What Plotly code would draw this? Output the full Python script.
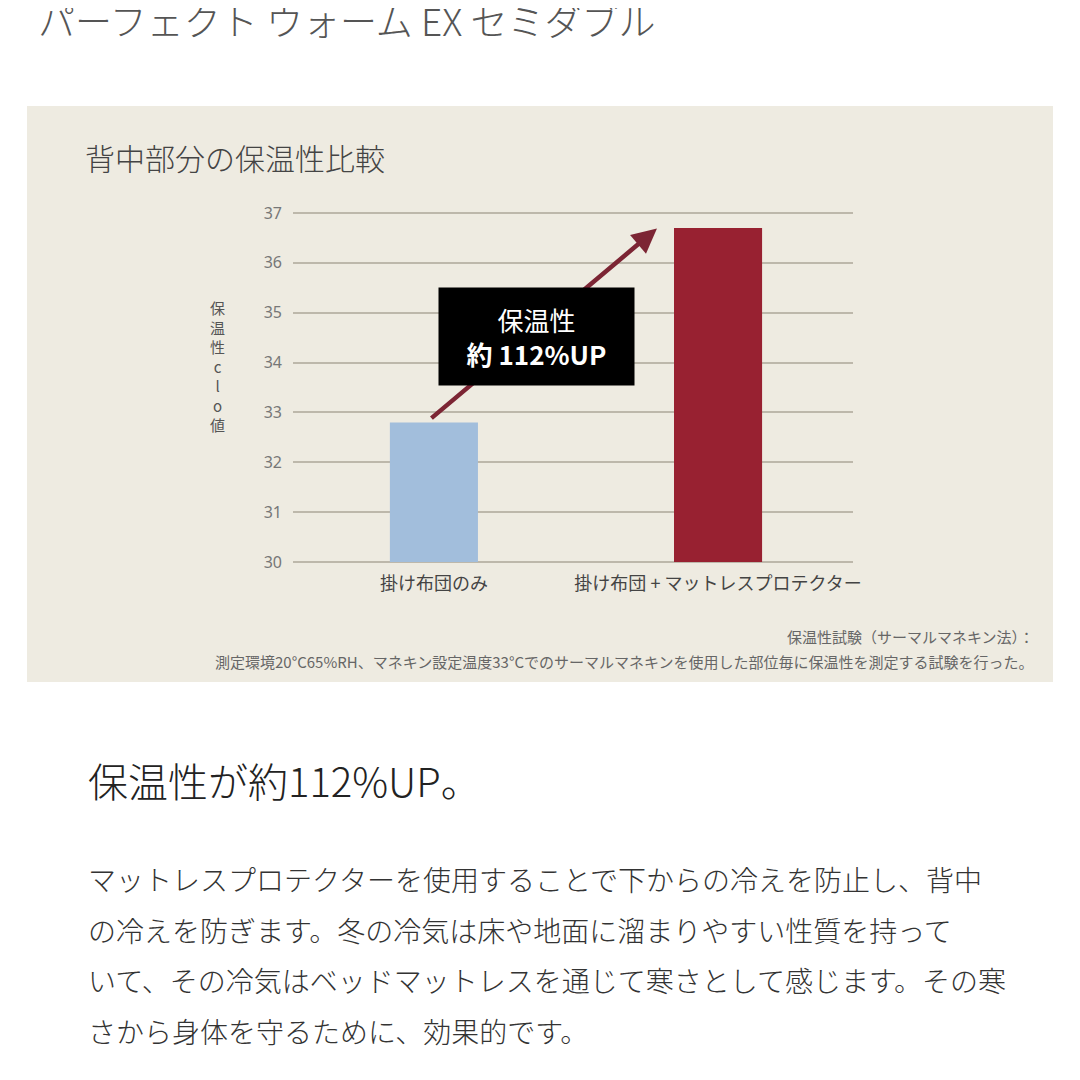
import plotly.graph_objects as go

# ---- data ----
categories = ["掛け布団のみ", "掛け布団 + マットレスプロテクター"]
clo_values = [32.8, 36.7]
y_ticks = [30, 31, 32, 33, 34, 35, 36, 37]
bar_colors = ["#A2BEDC", "#982131"]

page_title = "パーフェクト ウォーム EX セミダブル"
chart_title = "背中部分の保温性比較"
y_title_chars = ["保", "温", "性", "c", "l", "o", "値"]
box_lines = ["保温性", "<b>約 112%UP</b>"]
footnotes = [
    "保温性試験（サーマルマネキン法）：",
    "測定環境20°C65%RH、マネキン設定温度33°Cでのサーマルマネキンを使用した部位毎に保温性を測定する試験を行った。",
]
headline = "保温性が約112%UP。"
paragraph = [
    "マットレスプロテクターを使用することで下からの冷えを防止し、背中",
    "の冷えを防ぎます。冬の冷気は床や地面に溜まりやすい性質を持って",
    "いて、その冷気はベッドマットレスを通じて寒さとして感じます。その寒",
    "さから身体を守るために、効果的です。",
]

JP = "Noto Sans CJK JP"
W = H = 1080
OFF = 8  # page body margin
Y0, Y1 = 29.9, 37.1
# target pixel positions (reference picture coords) of the plot area
PL, PR = 293, 853
UNIT = (562 - 213) / 7.0
PT = 213 - (Y1 - 37) * UNIT
PB = 562 + (30 - Y0) * UNIT
L, R, T, B = PL - OFF, PR - OFF, PT - OFF, PB - OFF


def px(x):
    return (x - PL) / (PR - PL)


def py(y):
    return (PB - y) / (PB - PT)


fig = go.Figure()
fig.add_trace(go.Bar(
    x=[0, 1], y=[v - 30 for v in clo_values], base=30,
    marker=dict(color=bar_colors, line=dict(width=0)),
    width=0.31, hoverinfo="skip",
))

fig.update_layout(
    width=W, height=H, autosize=False,
    margin=dict(l=L, r=W - R, t=T, b=H - B, pad=0),
    paper_bgcolor="#FFFFFF", plot_bgcolor="#EEEBE1",
    showlegend=False,
    font=dict(family=JP, color="#444"),
    xaxis=dict(
        range=[-0.496, 1.475], tickmode="array", tickvals=[0, 1], ticktext=categories,
        showgrid=False, zeroline=False, showline=False,
        tickfont=dict(size=18, color="#444", family=JP), ticklabelstandoff=4,
    ),
    yaxis=dict(
        range=[Y0, Y1], tickmode="array", tickvals=y_ticks,
        ticktext=[str(t) for t in y_ticks],
        showgrid=True, gridcolor="#BDB8AB", gridwidth=2, zeroline=False, showline=False,
        tickfont=dict(size=16, color="#777", family="Noto Sans"), ticklabelstandoff=10,
    ),
)

# beige panel
fig.add_shape(type="rect", xref="paper", yref="paper",
              x0=px(27), x1=px(1053), y0=py(682), y1=py(106),
              fillcolor="#EEEBE1", line=dict(width=0), layer="below")

ann = []
# arrow (drawn first so box sits on top)
ann.append(dict(x=0.785, y=36.69, xref="x", yref="y",
                ax=-0.014, ay=32.86, axref="x", ayref="y",
                showarrow=True, arrowhead=2, arrowsize=1.1, arrowwidth=4.5,
                arrowcolor="#7C2534", text=""))
# black box
ann.append(dict(x=px(536.5), y=py(336.5), xref="paper", yref="paper",
                xanchor="center", yanchor="middle",
                text="<br>".join(box_lines), showarrow=False,
                bgcolor="#000000", width=193, height=95, align="center",
                font=dict(size=26, color="#FFFFFF", family=JP)))
# vertical y-axis title
ann.append(dict(x=px(217), y=py(366), xref="paper", yref="paper",
                xanchor="center", yanchor="middle",
                text="<br>".join(y_title_chars), showarrow=False,
                font=dict(size=15, color="#555", family=JP)))
# page title
ann.append(dict(x=px(36), y=py(20), xref="paper", yref="paper",
                xanchor="left", yanchor="middle",
                text=page_title, showarrow=False,
                font=dict(size=37, color="#555", family=JP, weight=300)))
# chart title
ann.append(dict(x=px(83), y=py(157), xref="paper", yref="paper",
                xanchor="left", yanchor="middle",
                text=chart_title, showarrow=False,
                font=dict(size=30, color="#444", family=JP, weight=300)))
# footnotes
for i, t in enumerate(footnotes):
    ann.append(dict(x=px(1036), y=py(636 + 25 * i), xref="paper", yref="paper",
                    xanchor="right", yanchor="middle", text=t, showarrow=False,
                    font=dict(size=15, color="#666", family=JP)))
# headline
ann.append(dict(x=px(86), y=py(780), xref="paper", yref="paper",
                xanchor="left", yanchor="middle",
                text=headline, showarrow=False,
                font=dict(size=40, color="#222", family=JP, weight=300)))
# paragraph
for i, t in enumerate(paragraph):
    ann.append(dict(x=px(86), y=py(879 + 50.7 * i), xref="paper", yref="paper",
                    xanchor="left", yanchor="middle", text=t, showarrow=False,
                    font=dict(size=28, color="#333", family=JP, weight=300)))

fig.update_layout(annotations=ann)
fig.write_html("out.html")
